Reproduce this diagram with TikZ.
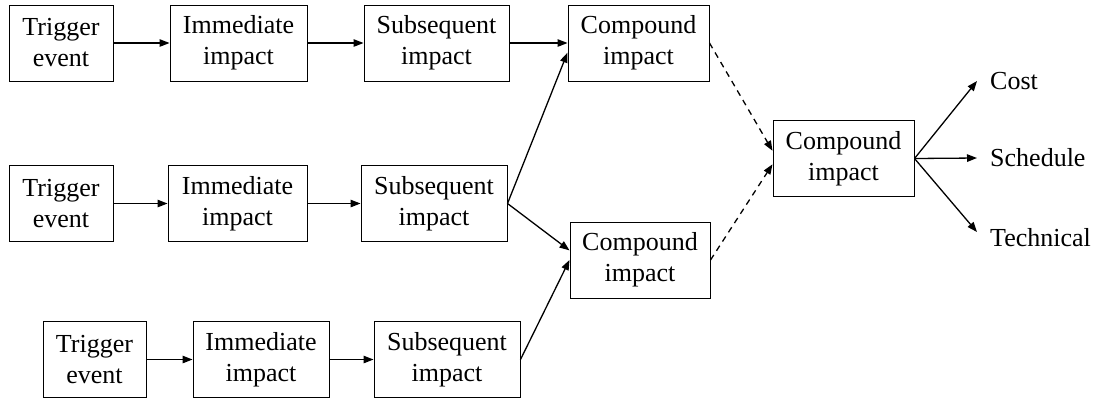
\documentclass[tikz,border=0pt]{standalone}
\usepackage{fontspec}
\setmainfont{Liberation Serif}
\usetikzlibrary{arrows.meta,calc}

\tikzset{
  blockbox/.style={draw=black, line width=1pt, inner sep=0pt, align=center,
    minimum height=76pt, font=\fontsize{26}{31}\selectfont},
  outlabel/.style={inner sep=0pt, anchor=west, font=\fontsize{26}{31}\selectfont},
  flow/.style={line width=1.3pt, -{Triangle[length=10pt,width=7.5pt]}},
  linkflow/.style={flow, dash pattern=on 6pt off 5pt},
}

\begin{document}
\begin{tikzpicture}[x=1pt,y=-1pt]
\useasboundingbox (0,0) rectangle (1100,400);

% first chain
\node[blockbox, minimum width=104pt] (t1) at (61,43)    {Trigger\\event};
\node[blockbox, minimum width=137pt] (i1) at (238.5,43) {Immediate\\impact};
\node[blockbox, minimum width=145pt] (s1) at (436.5,43) {Subsequent\\impact};
\node[blockbox, minimum width=141pt] (c1) at (638.5,43) {Compound\\impact};

% second chain
\node[blockbox, minimum width=104pt] (t2) at (61,203.5)  {Trigger\\event};
\node[blockbox, minimum width=139pt] (i2) at (237.5,203.5) {Immediate\\impact};
\node[blockbox, minimum width=146pt] (s2) at (434,203.5) {Subsequent\\impact};

% third chain
\node[blockbox, minimum width=103pt] (t3) at (94.5,359.5) {Trigger\\event};
\node[blockbox, minimum width=136pt] (i3) at (261,359.5)  {Immediate\\impact};
\node[blockbox, minimum width=146pt] (s3) at (447,359.5)  {Subsequent\\impact};

% combining impacts
\node[blockbox, minimum width=140pt] (c2) at (640,260)     {Compound\\impact};
\node[blockbox, minimum width=141pt] (cc) at (843.5,158.5) {Compound\\impact};

% outcome labels
\node[outlabel] (cost) at (990,81)  {Cost};
\node[outlabel] (sched) at (990,158) {Schedule};
\node[outlabel] (tech) at (990,238) {Technical};

% chain arrows
\draw[flow] (t1.east) -- (i1.west);
\draw[flow] (i1.east) -- (s1.west);
\draw[flow] (s1.east) -- (c1.west);
\draw[flow] (t2.east) -- (i2.west);
\draw[flow] (i2.east) -- (s2.west);
\draw[flow] (t3.east) -- (i3.west);
\draw[flow] (i3.east) -- (s3.west);

% branching into compound impacts
\draw[flow] (s2.east) -- ($(c1.west)!0.25!(c1.south west)$);
\draw[flow] (s2.east) -- ($(c2.west)!0.25!(c2.north west)$);
\draw[flow] (s3.east) -- (c2.west);

% dashed links into the overall compound impact
\draw[linkflow] (c1.east) -- ($(cc.west)!0.2!(cc.north west)$);
\draw[linkflow] (c2.east) -- ($(cc.west)!0.15!(cc.south west)$);

% outcomes
\draw[flow] (cc.east) -- ([xshift=-13pt]cost.west);
\draw[flow] (cc.east) -- ([xshift=-13pt]sched.west);
\draw[flow] (cc.east) -- ([xshift=-13pt,yshift=6pt]tech.west);
\end{tikzpicture}
\end{document}
